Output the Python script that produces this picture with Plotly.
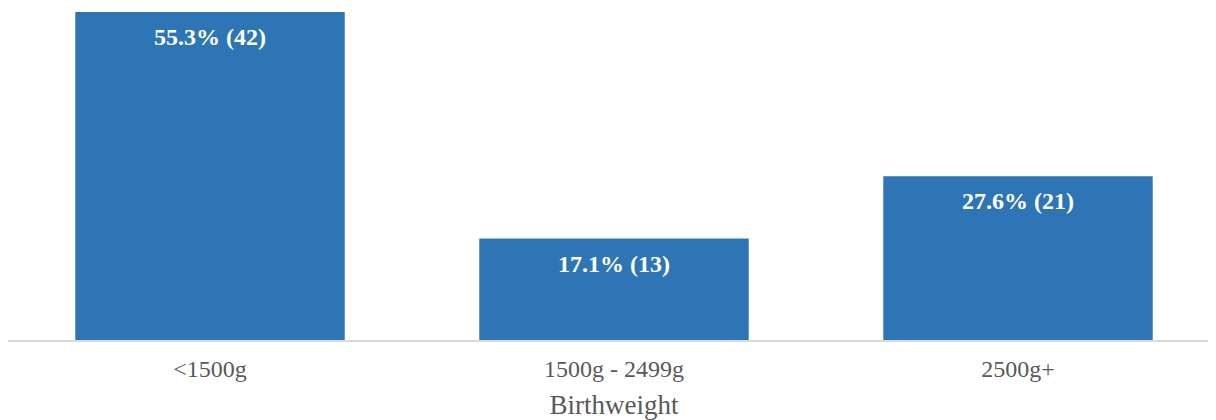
import plotly.graph_objects as go

categories = ["<1500g", "1500g - 2499g", "2500g+"]
percents = [55.3, 17.1, 27.6]
counts = [42, 13, 21]
labels = [f"{p:.1f}% ({c})" for p, c in zip(percents, counts)]

fig = go.Figure()
fig.add_trace(go.Bar(
    x=categories, y=percents,
    marker=dict(color="#2e75b6", line=dict(width=0)),
    hoverinfo="skip",
))
for c, p, lab in zip(categories, percents, labels):
    fig.add_annotation(
        x=c, y=p, text=f"<b>{lab}</b>", showarrow=False,
        yanchor="middle", yshift=-25,
        font=dict(family="Liberation Serif", size=24, color="white"),
    )

fig.update_layout(
    width=1216, height=420,
    margin=dict(l=0, r=4, t=4, b=88, autoexpand=False),
    paper_bgcolor="white", plot_bgcolor="white",
    bargap=0.333,
    showlegend=False,
    font=dict(family="Liberation Serif", color="#595959"),
)
fig.update_xaxes(
    range=[-0.5, 2.5],
    showline=True, linecolor="#d9d9d9", linewidth=2,
    ticks="outside", ticklen=6, tickcolor="rgba(0,0,0,0)",
    tickfont=dict(size=24, color="#595959"),
    title=dict(text="Birthweight", font=dict(size=27, color="#595959"), standoff=14),
)
fig.update_yaxes(range=[0, 55.3], visible=False, showgrid=False)

fig.write_html("out.html")
